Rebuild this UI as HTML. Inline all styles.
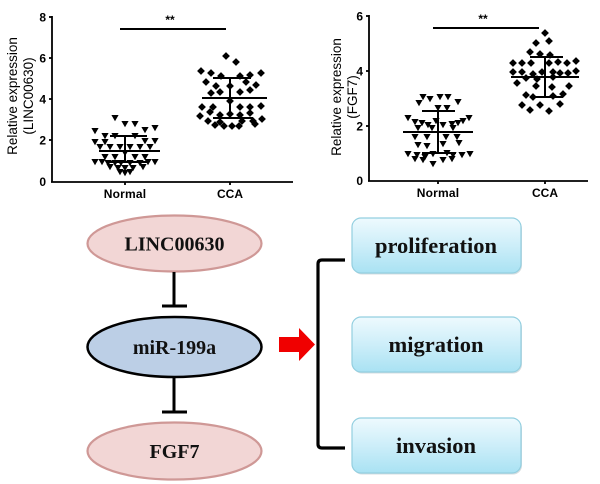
<!DOCTYPE html>
<html><head><meta charset="utf-8"><style>
html,body{margin:0;padding:0;background:#fff;}
svg{display:block;}
</style></head><body>
<svg width="600" height="484" viewBox="0 0 600 484" xmlns="http://www.w3.org/2000/svg">
<defs>
<path id="t" d="M-3.6,-3 L3.6,-3 L0,3.2 Z" fill="#000"/>
<path id="d" d="M0,-3.9 L3.9,0 L0,3.9 L-3.9,0 Z" fill="#000"/>
<linearGradient id="bx" x1="0" y1="0" x2="0" y2="1">
<stop offset="0" stop-color="#eefafe"/><stop offset="0.5" stop-color="#cdeef9"/><stop offset="1" stop-color="#a9e2f3"/>
</linearGradient>
</defs>
<rect width="600" height="484" fill="#fff"/>

<!-- LEFT CHART -->
<g stroke="#000" stroke-width="1.8" fill="none">
<line x1="52" y1="16" x2="52" y2="182"/>
<line x1="51" y1="182" x2="293" y2="182"/>
<line x1="49" y1="17" x2="52" y2="17"/><line x1="49" y1="58" x2="52" y2="58"/><line x1="49" y1="99" x2="52" y2="99"/><line x1="49" y1="140" x2="52" y2="140"/>
<line x1="125" y1="182" x2="125" y2="185"/><line x1="230" y1="182" x2="230" y2="185"/>
<line x1="120" y1="29" x2="226" y2="29" stroke-width="2"/>
</g>
<g font-family="Liberation Sans, Arial, sans-serif" font-weight="bold" font-size="12" fill="#000" text-anchor="end">
<text x="46" y="21.5">8</text><text x="46" y="62.5">6</text><text x="46" y="103.5">4</text><text x="46" y="144.5">2</text><text x="46" y="186">0</text>
</g>
<g font-family="Liberation Sans, Arial, sans-serif" font-weight="bold" font-size="12" fill="#000" text-anchor="middle">
<text x="125" y="198" letter-spacing="0.2">Normal</text><text x="230" y="198">CCA</text>
<text x="170" y="24">**</text>
</g>
<g font-family="Liberation Sans, Arial, sans-serif" font-size="13.5" fill="#000" text-anchor="middle">
<text transform="translate(17,96) rotate(-90)">Relative expression</text>
<text transform="translate(33,96) rotate(-90)">(LINC00630)</text>
</g>
<g>
<use href="#t" x="115" y="118"/><use href="#t" x="125" y="124"/><use href="#t" x="135" y="124"/><use href="#t" x="95" y="131"/><use href="#t" x="145" y="130"/><use href="#t" x="155" y="128"/>
<use href="#t" x="105" y="136"/><use href="#t" x="115" y="136"/><use href="#t" x="135" y="136"/><use href="#t" x="95" y="142"/><use href="#t" x="105" y="142"/><use href="#t" x="145" y="141"/><use href="#t" x="155" y="141"/>
<use href="#t" x="100" y="147"/><use href="#t" x="110" y="147"/><use href="#t" x="120" y="147"/><use href="#t" x="130" y="147"/><use href="#t" x="140" y="147"/><use href="#t" x="150" y="147"/>
<use href="#t" x="125" y="153"/><use href="#t" x="105" y="157"/><use href="#t" x="115" y="157"/><use href="#t" x="135" y="157"/><use href="#t" x="145" y="157"/>
<use href="#t" x="95" y="162"/><use href="#t" x="102" y="162"/><use href="#t" x="108" y="163"/><use href="#t" x="115" y="163"/><use href="#t" x="121" y="163"/><use href="#t" x="130" y="163"/><use href="#t" x="140" y="163"/><use href="#t" x="148" y="162"/><use href="#t" x="155" y="162"/>
<use href="#t" x="110" y="167"/><use href="#t" x="118" y="168"/><use href="#t" x="125" y="168"/><use href="#t" x="133" y="168"/><use href="#t" x="143" y="167"/><use href="#t" x="120" y="172"/><use href="#t" x="125" y="173"/><use href="#t" x="130" y="172"/>
</g>
<g>
<use href="#d" x="226" y="56"/><use href="#d" x="236" y="62"/><use href="#d" x="201" y="71"/><use href="#d" x="211" y="73"/><use href="#d" x="221" y="76"/><use href="#d" x="240" y="76"/><use href="#d" x="250" y="75"/><use href="#d" x="261" y="73"/>
<use href="#d" x="206" y="82"/><use href="#d" x="216" y="86"/><use href="#d" x="246" y="82"/><use href="#d" x="256" y="85"/><use href="#d" x="230" y="86"/>
<use href="#d" x="211" y="93"/><use href="#d" x="220" y="92"/><use href="#d" x="240" y="92"/><use href="#d" x="250" y="90"/><use href="#d" x="230" y="101"/>
<use href="#d" x="202" y="107"/><use href="#d" x="213" y="107"/><use href="#d" x="240" y="107"/><use href="#d" x="250" y="107"/><use href="#d" x="261" y="106"/>
<use href="#d" x="210" y="112"/><use href="#d" x="220" y="115"/><use href="#d" x="240" y="115"/><use href="#d" x="250" y="113"/><use href="#d" x="200" y="116"/><use href="#d" x="230" y="114"/>
<use href="#d" x="208" y="121"/><use href="#d" x="220" y="122"/><use href="#d" x="242" y="121"/><use href="#d" x="253" y="121"/><use href="#d" x="262" y="119"/>
<use href="#d" x="215" y="125"/><use href="#d" x="224" y="126"/><use href="#d" x="232" y="126"/><use href="#d" x="239" y="126"/><use href="#d" x="255" y="124"/>
</g>
<g stroke="#000" stroke-width="2" fill="none">
<line x1="99" y1="151" x2="160" y2="151"/><line x1="125" y1="136" x2="125" y2="162"/><line x1="110" y1="136" x2="147" y2="136"/><line x1="110" y1="162" x2="147" y2="162"/>
<line x1="202" y1="98" x2="267" y2="98"/><line x1="230" y1="78" x2="230" y2="118"/><line x1="213" y1="78" x2="251" y2="78"/><line x1="213" y1="118" x2="253" y2="118"/>
</g>

<!-- RIGHT CHART -->
<g stroke="#000" stroke-width="1.8" fill="none">
<line x1="369" y1="15" x2="369" y2="181"/>
<line x1="368" y1="181" x2="588" y2="181"/>
<line x1="366" y1="16" x2="369" y2="16"/><line x1="366" y1="71" x2="369" y2="71"/><line x1="366" y1="126" x2="369" y2="126"/>
<line x1="438" y1="181" x2="438" y2="184"/><line x1="545" y1="181" x2="545" y2="184"/>
<line x1="433" y1="28" x2="539" y2="28" stroke-width="2"/>
</g>
<g font-family="Liberation Sans, Arial, sans-serif" font-weight="bold" font-size="12" fill="#000" text-anchor="end">
<text x="363" y="20.5">6</text><text x="363" y="75.5">4</text><text x="363" y="130.5">2</text><text x="363" y="185">0</text>
</g>
<g font-family="Liberation Sans, Arial, sans-serif" font-weight="bold" font-size="12" fill="#000" text-anchor="middle">
<text x="438" y="197" letter-spacing="0.2">Normal</text><text x="545" y="197">CCA</text>
<text x="483" y="23">**</text>
</g>
<g font-family="Liberation Sans, Arial, sans-serif" font-size="13.5" fill="#000" text-anchor="middle">
<text transform="translate(341,97) rotate(-90)">Relative expression</text>
<text transform="translate(357,97) rotate(-90)">(FGF7)</text>
</g>
<g>
<use href="#t" x="423" y="97"/><use href="#t" x="430" y="99"/><use href="#t" x="440" y="97"/><use href="#t" x="448" y="97"/><use href="#t" x="458" y="102"/><use href="#t" x="419" y="103"/>
<use href="#t" x="438" y="108"/><use href="#t" x="447" y="108"/>
<use href="#t" x="408" y="118"/><use href="#t" x="415" y="122"/><use href="#t" x="422" y="123"/><use href="#t" x="428" y="125"/><use href="#t" x="443" y="125"/><use href="#t" x="452" y="124"/><use href="#t" x="458" y="123"/><use href="#t" x="463" y="121"/><use href="#t" x="469" y="118"/><use href="#t" x="436" y="121"/>
<use href="#t" x="418" y="128"/><use href="#t" x="432" y="128"/><use href="#t" x="453" y="128"/>
<use href="#t" x="415" y="137"/><use href="#t" x="427" y="137"/><use href="#t" x="446" y="137"/><use href="#t" x="457" y="137"/>
<use href="#t" x="418" y="145"/><use href="#t" x="427" y="146"/><use href="#t" x="443" y="144"/><use href="#t" x="459" y="143"/>
<use href="#t" x="408" y="154"/><use href="#t" x="417" y="155"/><use href="#t" x="425" y="157"/><use href="#t" x="433" y="154"/><use href="#t" x="447" y="153"/><use href="#t" x="453" y="155"/><use href="#t" x="462" y="155"/><use href="#t" x="470" y="154"/>
<use href="#t" x="415" y="159"/><use href="#t" x="423" y="160"/><use href="#t" x="443" y="160"/><use href="#t" x="452" y="159"/><use href="#t" x="433" y="164"/>
</g>
<g>
<use href="#d" x="545" y="33"/><use href="#d" x="536" y="43"/><use href="#d" x="549" y="41"/>
<use href="#d" x="530" y="52"/><use href="#d" x="540" y="54"/><use href="#d" x="550" y="55"/>
<use href="#d" x="513" y="63"/><use href="#d" x="522" y="63"/><use href="#d" x="531" y="63"/><use href="#d" x="549" y="63"/><use href="#d" x="558" y="62"/><use href="#d" x="567" y="63"/><use href="#d" x="576" y="61"/>
<use href="#d" x="513" y="72"/><use href="#d" x="522" y="72"/><use href="#d" x="533" y="74"/><use href="#d" x="542" y="72"/><use href="#d" x="553" y="72"/><use href="#d" x="560" y="73"/><use href="#d" x="568" y="73"/><use href="#d" x="576" y="71"/>
<use href="#d" x="526" y="78"/><use href="#d" x="537" y="79"/><use href="#d" x="553" y="77"/>
<use href="#d" x="517" y="83"/><use href="#d" x="536" y="86"/><use href="#d" x="552" y="87"/><use href="#d" x="569" y="86"/>
<use href="#d" x="526" y="95"/><use href="#d" x="533" y="97"/><use href="#d" x="553" y="96"/><use href="#d" x="563" y="94"/>
<use href="#d" x="522" y="105"/><use href="#d" x="540" y="105"/><use href="#d" x="560" y="104"/>
<use href="#d" x="530" y="110"/><use href="#d" x="549" y="111"/>
</g>
<g stroke="#000" stroke-width="2" fill="none">
<line x1="403" y1="132" x2="473" y2="132"/><line x1="438" y1="111" x2="438" y2="153"/><line x1="422" y1="111" x2="455" y2="111"/><line x1="422" y1="153" x2="456" y2="153"/>
<line x1="511" y1="77" x2="579" y2="77"/><line x1="545" y1="57" x2="545" y2="97"/><line x1="530" y1="57" x2="563" y2="57"/><line x1="530" y1="97" x2="563" y2="97"/>
</g>

<!-- PATHWAY DIAGRAM -->
<ellipse cx="174.5" cy="243.5" rx="87" ry="28" fill="#f2d6d5" stroke="#cf9896" stroke-width="2.2"/>
<ellipse cx="174.5" cy="347" rx="87" ry="30" fill="#bccfe6" stroke="#000" stroke-width="2.5"/>
<ellipse cx="174.5" cy="451" rx="87" ry="28.5" fill="#f2d6d5" stroke="#cf9896" stroke-width="2.2"/>
<g stroke="#000" stroke-width="3" fill="none">
<line x1="174" y1="272" x2="174" y2="306"/><line x1="162" y1="306" x2="187" y2="306"/>
<line x1="174" y1="378" x2="174" y2="412"/><line x1="162" y1="412" x2="187" y2="412"/>
<path d="M345,260 H322 Q318,260 318,264 V444 Q318,448 322,448 H345" stroke-width="3.2"/>
</g>
<g font-family="Liberation Serif, 'Times New Roman', serif" font-weight="bold" font-size="20" fill="#111" text-anchor="middle">
<text x="174.5" y="250.5">LINC00630</text>
<text x="174.5" y="354">miR-199a</text>
<text x="174.5" y="458">FGF7</text>
</g>
<polygon points="279,337 299,337 299,328 315,344.5 299,361 299,352 279,352" fill="#f00000"/>

<g>
<rect x="353" y="219.5" width="169" height="55" rx="9" fill="#b9c6cc" opacity="0.6"/>
<rect x="352" y="218" width="169" height="55" rx="9" fill="url(#bx)" stroke="#93cfe0" stroke-width="1.2"/>
<rect x="353" y="318.5" width="169" height="55" rx="9" fill="#b9c6cc" opacity="0.6"/>
<rect x="352" y="317" width="169" height="55" rx="9" fill="url(#bx)" stroke="#93cfe0" stroke-width="1.2"/>
<rect x="353" y="419.5" width="169" height="55" rx="9" fill="#b9c6cc" opacity="0.6"/>
<rect x="352" y="418" width="169" height="55" rx="9" fill="url(#bx)" stroke="#93cfe0" stroke-width="1.2"/>
</g>
<g font-family="Liberation Serif, 'Times New Roman', serif" font-weight="bold" font-size="22.5" fill="#111" text-anchor="middle">
<text x="436" y="253">proliferation</text>
<text x="436" y="352">migration</text>
<text x="436" y="453">invasion</text>
</g>
</svg>
</body></html>
